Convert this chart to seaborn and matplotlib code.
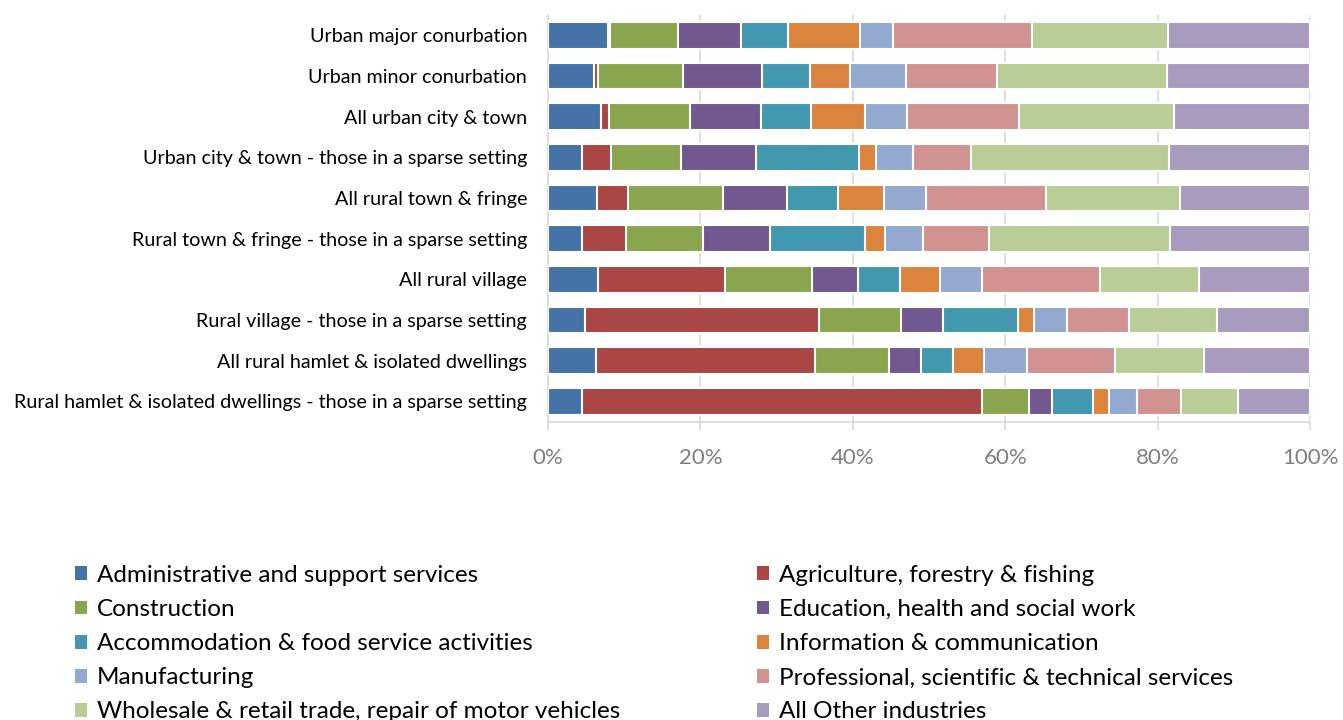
import pandas as pd
import seaborn as sns
import matplotlib.pyplot as plt

sns.set_style("white")
plt.rcParams['font.family'] = ['Lato', 'DejaVu Sans']

# area types, top to bottom
areas = ["Urban major conurbation",
         "Urban minor conurbation",
         "All urban city & town",
         "Urban city & town - those in a sparse setting",
         "All rural town & fringe",
         "Rural town & fringe - those in a sparse setting",
         "All rural village",
         "Rural village - those in a sparse setting",
         "All rural hamlet & isolated dwellings",
         "Rural hamlet & isolated dwellings - those in a sparse setting"]

industries = ["Administrative and support services",
              "Agriculture, forestry & fishing",
              "Construction",
              "Education, health and social work",
              "Accommodation & food service activities",
              "Information & communication",
              "Manufacturing",
              "Professional, scientific & technical services",
              "Wholesale & retail trade, repair of motor vehicles",
              "All Other industries"]

# share of businesses (%)
admin = [7.9, 6.0, 6.9, 4.4, 6.4, 4.5, 6.5, 4.9, 6.3, 4.5]
agri = [0.2, 0.6, 1.1, 3.9, 4.1, 5.8, 16.7, 30.6, 28.7, 52.4]
constr = [9.0, 11.1, 10.6, 9.2, 12.5, 10.0, 11.5, 10.8, 9.8, 6.2]
edu = [8.3, 10.3, 9.3, 9.8, 8.4, 8.8, 6.0, 5.6, 4.1, 3.0]
accom = [6.1, 6.4, 6.6, 13.5, 6.7, 12.6, 5.5, 9.8, 4.3, 5.4]
info = [9.5, 5.2, 7.1, 2.3, 6.0, 2.6, 5.3, 2.1, 4.0, 2.1]
manuf = [4.3, 7.3, 5.5, 4.8, 5.5, 5.0, 5.4, 4.3, 5.6, 3.6]
prof = [18.3, 11.9, 14.7, 7.6, 15.7, 8.6, 15.5, 8.2, 11.6, 5.8]
retail = [17.9, 22.4, 20.3, 26.0, 17.6, 23.8, 13.0, 11.5, 11.7, 7.5]
other = [18.6, 18.7, 17.8, 18.5, 17.1, 18.4, 14.6, 12.2, 13.9, 9.4]

colors = ["#4572A7", "#AA4643", "#89A54E", "#71588F", "#4198AF",
          "#DB843D", "#93A9CF", "#D19392", "#B9CD96", "#A99BBD"]

df = pd.DataFrame([admin, agri, constr, edu, accom, info, manuf, prof, retail, other],
                  index=industries, columns=areas).T
df = df.div(df.sum(axis=1), axis=0) * 100
cum = df.cumsum(axis=1)

fig = plt.figure(figsize=(13.43, 7.2), dpi=100)
ax = fig.add_axes([548 / 1343, 1 - 421.7 / 720, 762 / 1343, 406.7 / 720])

# stacked bars: draw cumulative totals from the right, smaller ones on top
for i in reversed(range(len(industries))):
    sns.barplot(x=cum.iloc[:, i].values, y=areas, color=colors[i], orient='h',
                width=0.66, edgecolor='white', linewidth=1.5, errorbar=None,
                saturation=1, label=industries[i], legend=False, ax=ax, zorder=3)

if ax.get_legend() is not None:
    ax.get_legend().remove()

ax.set_xlim(0, 100)
ax.set_ylim(9.5, -0.5)
ax.set_xticks([0, 20, 40, 60, 80, 100])
ax.set_xticklabels(["0%", "20%", "40%", "60%", "80%", "100%"])
ax.grid(axis='x', color='#D9D9D9', linewidth=1.2, zorder=0)
ax.set_axisbelow(True)
ax.set(xlabel='', ylabel='')

for s in ['top', 'right']:
    ax.spines[s].set_visible(False)
for s in ['left', 'bottom']:
    ax.spines[s].set_color('#D9D9D9')
    ax.spines[s].set_linewidth(1.2)

ax.tick_params(axis='x', colors='#D9D9D9', length=6, width=1.2, pad=13,
               labelsize=16, labelcolor='#7F7F7F', bottom=True)
ax.tick_params(axis='y', length=0, pad=15, labelsize=14.2, labelcolor='black')

handles, labels = ax.get_legend_handles_labels()
lookup = dict(zip(labels, handles))
kw = dict(loc='upper left', frameon=False, fontsize=17.5, borderpad=0,
          borderaxespad=0, handlelength=0.5, handleheight=0.5,
          handletextpad=0.4, labelspacing=0.54, labelcolor='black')
left_names = industries[0::2]
right_names = industries[1::2]
leg1 = fig.legend([lookup[n] for n in left_names], left_names,
                  bbox_to_anchor=(75 / 1343, 1 - 565 / 720), **kw)
leg2 = fig.legend([lookup[n] for n in right_names], right_names,
                  bbox_to_anchor=(757 / 1343, 1 - 565 / 720), **kw)
for leg in (leg1, leg2):
    for h in leg.legend_handles:
        h.set_edgecolor('none')

fig.savefig('out.png', dpi=100)
